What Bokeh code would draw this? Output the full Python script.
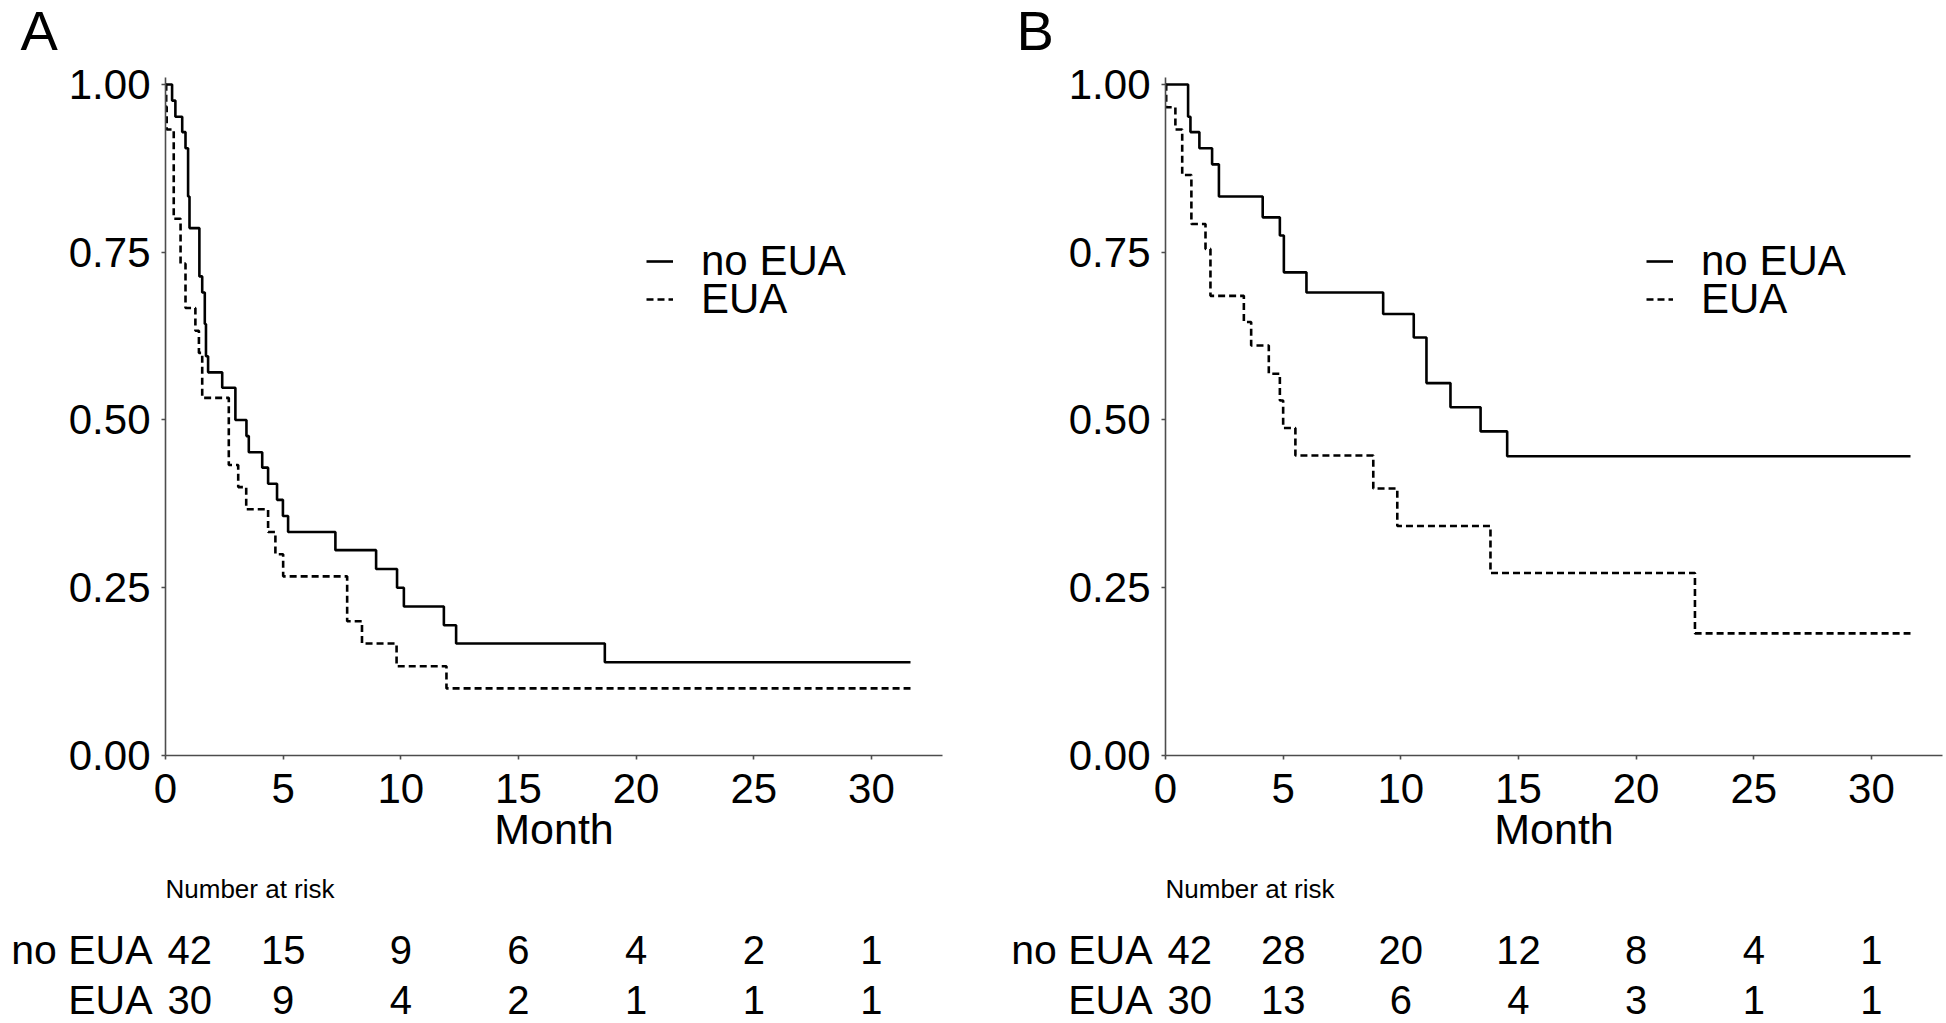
from bokeh.plotting import figure
from bokeh.layouts import row, column
from bokeh.models import (Range1d, FixedTicker, Legend, LegendItem, ColumnDataSource,
                          NumeralTickFormatter)
from bokeh.core.properties import value
from bokeh.embed import file_html
from bokeh.resources import INLINE

FONT = "Liberation Sans"

# ---------------- data ----------------
groups = ["no EUA", "EUA"]
risk_times = [0, 5, 10, 15, 20, 25, 30]
x_ticks = [0, 5, 10, 15, 20, 25, 30]
y_ticks = [0.0, 0.25, 0.50, 0.75, 1.0]
follow_up_end = 31.66

# Panel A
a_noeua_t = [0.28, 0.42, 0.71, 0.85, 0.96, 1.02, 1.44, 1.56, 1.67, 1.72, 1.81, 2.41, 2.97,
             3.44, 3.54, 4.11, 4.36, 4.74, 4.99, 5.21, 7.22, 8.95, 9.84, 10.13, 11.83, 12.35, 18.67]
a_noeua_s = [0.976, 0.952, 0.929, 0.905, 0.833, 0.786, 0.714, 0.690, 0.643, 0.595, 0.571, 0.548, 0.500,
             0.476, 0.452, 0.429, 0.405, 0.381, 0.357, 0.333, 0.306, 0.278, 0.250, 0.222, 0.194, 0.167, 0.139]
a_eua_t = [0.03, 0.05, 0.35, 0.64, 0.85, 1.27, 1.42, 1.56, 2.69, 3.09, 3.43, 4.36, 4.67, 5.00,
           7.72, 8.35, 9.82, 11.94]
a_eua_s = [0.967, 0.933, 0.800, 0.733, 0.667, 0.633, 0.600, 0.533, 0.433, 0.400, 0.367, 0.333, 0.300, 0.267,
           0.200, 0.167, 0.133, 0.100]
a_risk_noeua = [42, 15, 9, 6, 4, 2, 1]
a_risk_eua = [30, 9, 4, 2, 1, 1, 1]

# Panel B
b_noeua_t = [0.96, 1.06, 1.44, 1.98, 2.27, 4.13, 4.86, 5.03, 5.99, 9.25, 10.55, 11.09, 12.11, 13.39, 14.52]
b_noeua_s = [0.952, 0.929, 0.905, 0.881, 0.833, 0.802, 0.775, 0.720, 0.690, 0.658, 0.623, 0.555, 0.519,
             0.483, 0.446]
b_eua_t = [0.03, 0.42, 0.71, 1.10, 1.70, 1.91, 3.33, 3.64, 4.39, 4.86, 5.00, 5.52, 8.83, 9.85, 13.81, 22.50]
b_eua_s = [0.966, 0.933, 0.865, 0.792, 0.755, 0.685, 0.646, 0.611, 0.569, 0.529, 0.488, 0.447, 0.398,
           0.342, 0.272, 0.182]
b_risk_noeua = [42, 28, 20, 12, 8, 4, 1]
b_risk_eua = [30, 13, 6, 4, 3, 1, 1]

# ---------------- layout constants ----------------
X_END = 33.02
Y_END = 1.0104
FRAME_W = 777
FRAME_H = 678
BORDER_L = 165
HEAD_H = 50
KM_TOP = 27
KM_BOTTOM = 120
KM_H = KM_TOP + FRAME_H + KM_BOTTOM
RISK_H = 1023 - HEAD_H - KM_H
AXIS_COLOR = "#4d4d4d"
LETTER_Y = 20
RISK_TITLE_Y = 13
RISK_ROW_Y = [74, 124]


def step_xy(t, s):
    return [0.0] + list(t) + [follow_up_end], [1.0] + list(s) + [s[-1]]


def bare_fig(width, height, x_range, y_range):
    f = figure(width=width, height=height, x_range=x_range, y_range=y_range, title=None,
               x_axis_type=None, y_axis_type=None, toolbar_location=None, output_backend="svg",
               min_border_left=0, min_border_right=0, min_border_top=0, min_border_bottom=0,
               outline_line_color=None)
    f.frame_align = False
    return f


def make_panel(letter, letter_x, border_right, no_t, no_s, eu_t, eu_s, risk_no, risk_eu):
    width = BORDER_L + FRAME_W + border_right

    # strip with the panel letter
    head = bare_fig(width, HEAD_H, Range1d(0, width), Range1d(0, HEAD_H))
    head.text(x=[letter_x], y=[LETTER_Y], text=[letter], text_font=value(FONT), text_font_size="56px",
              text_color="black", text_baseline="alphabetic", text_align="left")

    # Kaplan-Meier plot
    p = figure(width=width, height=KM_H, x_range=Range1d(0, X_END), y_range=Range1d(0, Y_END),
               title=None, toolbar_location=None, output_backend="svg",
               min_border_left=BORDER_L, min_border_right=border_right,
               min_border_top=KM_TOP, min_border_bottom=KM_BOTTOM, outline_line_color=None)
    p.frame_align = False
    p.xgrid.visible = False
    p.ygrid.visible = False
    x1, y1 = step_xy(no_t, no_s)
    x2, y2 = step_xy(eu_t, eu_s)
    r1 = p.step(x1, y1, mode="after", line_color="black", line_width=2.6)
    r2 = p.step(x2, y2, mode="after", line_color="black", line_width=2.6, line_dash="7 4")

    p.xaxis.ticker = FixedTicker(ticks=x_ticks)
    p.yaxis.ticker = FixedTicker(ticks=y_ticks)
    p.yaxis.formatter = NumeralTickFormatter(format="0.00")
    for ax in (p.xaxis[0], p.yaxis[0]):
        ax.axis_line_color = AXIS_COLOR
        ax.axis_line_width = 1.6
        ax.major_tick_line_color = AXIS_COLOR
        ax.major_tick_line_width = 1.6
        ax.major_tick_out = 4
        ax.major_tick_in = 0
        ax.minor_tick_line_color = None
        ax.major_label_text_font = FONT
        ax.major_label_text_font_size = "42px"
        ax.major_label_text_color = "black"
    p.yaxis.major_label_standoff = 11
    p.xaxis.major_label_standoff = 14
    p.xaxis.axis_label = "Month"
    p.xaxis.axis_label_text_font = FONT
    p.xaxis.axis_label_text_font_size = "43px"
    p.xaxis.axis_label_text_font_style = "normal"
    p.xaxis.axis_label_text_color = "black"
    p.xaxis.axis_label_standoff = -1

    for rend, grp, loc_y in ((r1, groups[0], 470), (r2, groups[1], 432)):
        leg = Legend(items=[LegendItem(label=grp, renderers=[rend])],
                     location=(481, loc_y), padding=0, margin=0, spacing=0,
                     border_line_alpha=0, background_fill_alpha=0,
                     label_text_font=FONT, label_text_font_size="42px", label_text_color="black",
                     glyph_width=27, glyph_height=20, label_standoff=28)
        p.add_layout(leg)

    # Number-at-risk table on the same month scale as the plot
    scale = FRAME_W / X_END
    rk = bare_fig(width, RISK_H, Range1d(-BORDER_L / scale, (width - BORDER_L) / scale),
                  Range1d(RISK_H, 0))
    rk.text(x=[risk_times[0]], y=[RISK_TITLE_Y], text=["Number at risk"], text_font=value(FONT),
            text_font_size="26px", text_baseline="alphabetic", text_align="left", text_color="black")
    rk.text(x=[risk_times[0]] * 2, y=RISK_ROW_Y, text=groups, text_font=value(FONT), text_font_size="41px",
            text_baseline="alphabetic", text_align="right", x_offset=-13, text_color="black")
    for yy, vals in zip(RISK_ROW_Y, (risk_no, risk_eu)):
        src_first = ColumnDataSource(dict(x=[risk_times[0]], y=[yy], t=[str(vals[0])]))
        rk.text(x="x", y="y", text="t", source=src_first, text_font=value(FONT), text_font_size="40px",
                text_baseline="alphabetic", text_align="left", x_offset=2, text_color="black")
        src = ColumnDataSource(dict(x=risk_times[1:], y=[yy] * (len(risk_times) - 1),
                                    t=[str(v) for v in vals[1:]]))
        rk.text(x="x", y="y", text="t", source=src, text_font=value(FONT), text_font_size="40px",
                text_baseline="alphabetic", text_align="center", text_color="black")

    return column(head, p, rk, spacing=0)


panel_a = make_panel("A", 20, 58, a_noeua_t, a_noeua_s, a_eua_t, a_eua_s, a_risk_noeua, a_risk_eua)
panel_b = make_panel("B", 16, 4, b_noeua_t, b_noeua_s, b_eua_t, b_eua_s, b_risk_noeua, b_risk_eua)

layout = row(panel_a, panel_b, spacing=0)

open("out.html", "w").write(file_html(layout, INLINE))
